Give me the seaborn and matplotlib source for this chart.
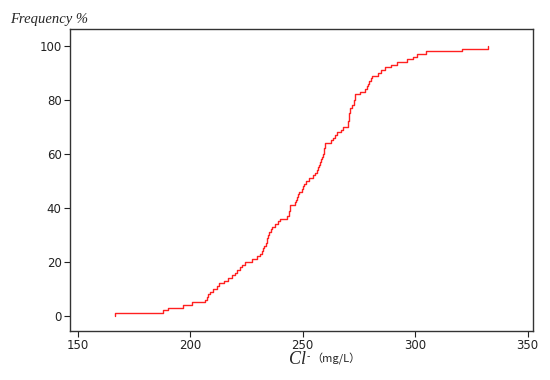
import numpy as np
import pandas as pd
import matplotlib
matplotlib.use("Agg")
import matplotlib.pyplot as plt
import seaborn as sns

# Cl- concentrations (mg/L)
cl_values = [
    166.5, 188.0, 190.0, 196.7, 200.8, 206.5, 207.4, 208.0, 209.0, 210.0,
    212.0, 213.0, 215.0, 217.0, 218.5, 220.0, 221.0, 222.0, 223.0, 224.5,
    227.5, 229.7, 231.0, 232.0, 232.5, 233.0, 233.5, 234.0, 234.3, 234.6,
    235.0, 236.0, 236.5, 237.5, 239.0, 240.0, 243.0, 243.8, 244.0, 244.3,
    244.6, 246.6, 247.0, 247.5, 248.0, 248.4, 249.5, 250.0, 250.5, 251.5,
    253.0, 254.5, 255.5, 256.5, 257.0, 257.4, 257.7, 258.0, 258.5, 259.0,
    259.3, 259.6, 259.8, 260.0, 262.5, 263.5, 264.5, 265.5, 267.0, 268.0,
    270.0, 270.2, 270.4, 270.6, 270.8, 271.0, 271.2, 272.0, 272.7, 273.0,
    273.2, 273.5, 275.5, 277.7, 278.5, 279.0, 279.5, 280.5, 281.0, 283.5,
    285.0, 286.5, 289.5, 292.0, 296.6, 299.0, 300.7, 305.0, 320.8, 332.5,
]
x_ticks = [150, 200, 250, 300, 350]
y_ticks = [0, 20, 40, 60, 80, 100]

df = pd.DataFrame({"cl": cl_values})

sns.set_style("white")
plt.rcParams["font.family"] = ["DejaVu Sans"]

fig = plt.figure(figsize=(5.5, 3.8), dpi=100)
ax = fig.add_axes([0.127, 0.129, 0.842, 0.795])

sns.ecdfplot(data=df, x="cl", stat="percent", color="#ff2020", linewidth=1.0, ax=ax)

ax.set_xlim(146.5, 352.4)
ax.set_ylim(-5.6, 106.3)
ax.set_xticks(x_ticks)
ax.set_yticks(y_ticks)
ax.set_xlabel("")
ax.set_ylabel("")
ax.tick_params(axis="both", which="both", direction="out", length=4, width=0.8,
               labelsize=8.5, colors="#222222", bottom=True, left=True, pad=2)
for s in ax.spines.values():
    s.set_color("#333333")
    s.set_linewidth(1.0)

# y axis title, top left
fig.text(10 / 550, 1 - 19 / 380, "Frequency %", family="Liberation Serif",
         style="italic", fontsize=10.5, ha="left", va="center")

# x axis title: italic Cl, superscript minus and unit in CJK font
fig.text(306 / 550, 1 - 360 / 380, "Cl", family="Liberation Serif",
         style="italic", fontsize=13, ha="right", va="center")
fig.text(307 / 550, 1 - 357 / 380, "-", family=["Noto Sans CJK SC", "DejaVu Sans"],
         fontsize=7, ha="left", va="center")
fig.text(311 / 550, 1 - 359 / 380, "（mg/L）", family=["Noto Sans CJK SC", "DejaVu Sans"],
         fontsize=8, ha="left", va="center")

fig.savefig("out.png", dpi=100, facecolor="white")
